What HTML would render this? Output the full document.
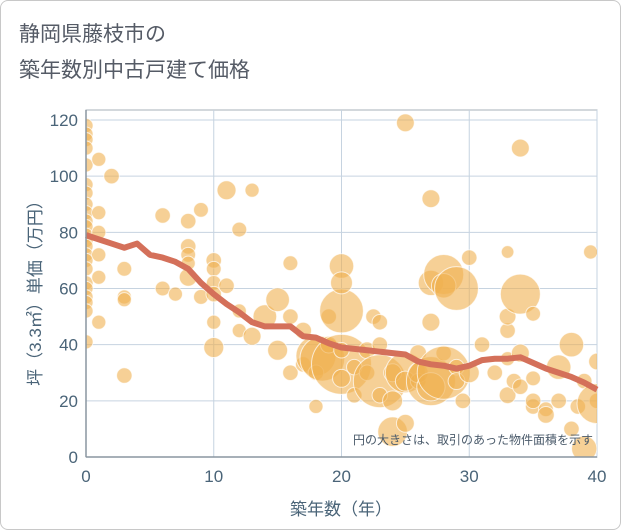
<!DOCTYPE html>
<html><head><meta charset="utf-8">
<style>
body{margin:0;background:#fff;}
#card{position:absolute;left:0;top:0;width:619px;height:528px;border:1px solid #c8c8c8;border-radius:8px;background:#fff;overflow:hidden;}
text{font-family:"Liberation Sans","Noto Sans CJK JP",sans-serif;}
</style></head><body>
<div id="card">
<svg id="svg" width="621" height="530">
<text x="18" y="40" font-size="21" fill="#555b66">静岡県藤枝市の</text>
<text x="18" y="76" font-size="21" fill="#555b66">築年数別中古戸建て価格</text>
<g id="grid"></g>
<g id="bubbles"></g>
<g id="trend"></g>
<g id="axes"></g>
<text x="592" y="443" font-size="12" fill="#4a5a6a" text-anchor="end">円の大きさは、取引のあった物件面積を示す</text>
<text x="340" y="514" font-size="17" fill="#4a6478" text-anchor="middle">築年数（年）</text>
<text transform="translate(40,288) rotate(-90)" font-size="17" fill="#4a6478" text-anchor="middle">坪（3.3㎡）単価（万円）</text>
</svg>
</div>
<script>
const xTicks=[0,10,20,30,40];
const yTicks=[0,20,40,60,80,100,120];
const ages=[0,0,0,0,0,0,0,0,0,0,0,0,0,0,0,0,0,0,0,0,0,0,0,1,1,1,1,1,1,2,3,3,3,3,6,6,7,8,8,8,8,8,9,9,10,10,10,10,10,10,11,11,12,12,12,13,13,14,15,15,16,16,16,17,17,18,18,18,18.5,19,19,20,20,20,20,20,20,21,21,22,22,22.5,23,23,23,23,24,24,24,25,25,25,25,26,26,26,27,27,27,27,27,28,28,28,28,29,29,29,29.5,30,30,31,32,33,33,33,33,33,33.5,34,34,34,34,35,35,35,35,36,36,37,37,38,38,38.5,39,39,39.5,40,40,40];
const prices=[118,115,113,110,104,97,94,90,87,84,82,79,77,75,72,70,67,62,60,57,55,52,41,106,87,80,72,64,48,100,67,57,56,29,86,60,58,84,75,72,69,64,88,57,70,67,62,58,48,39,95,61,81,52,45,95,43,50,56,38,69,50,30,45,33,36,30,18,35,50,40,52,33,68,62,28,38,32,22,38,30,50,27,48,22,40,9,20,30,119,30,27,12,27,37,30,92,62,48,27,25,65,61,37,30,32,60,27,20,71,30,40,30,22,73,45,50,35,27,110,58,37,25,18,51,28,20,17,15,20,32,40,10,18,27,3,73,34,20,19,39,38];
const sizes=[50,50,50,50,50,50,50,50,50,50,50,50,50,50,50,50,50,50,50,50,50,50,50,50,50,50,50,50,50,60,55,50,50,60,60,55,50,60,60,55,50,80,55,55,60,55,55,60,50,100,90,60,55,50,50,50,80,140,140,100,55,60,60,70,60,400,60,50,500,60,70,480,900,150,120,80,60,60,60,70,60,60,700,60,60,60,220,100,80,80,400,100,80,60,70,100,80,160,80,600,200,400,150,60,700,60,480,70,60,60,100,60,60,70,40,60,70,50,60,80,400,80,60,60,55,55,60,55,70,60,150,150,60,60,60,160,50,70,60,400,60,60];
const trendX=[0,1,2,3,4,5,6,7,8,9,10,11,12,13,14,15,16,17,18,19,20,21,22,23,24,25,26,27,28,29,30,31,32,33,34,35,36,37,38,39,40];
const trendY=[79,77.5,76,74.5,76,72,71,69.5,67,62,58,54.5,51.5,48,46.5,46.5,46.5,43,42.5,40.5,39,38.5,38,37.5,37,36.5,34,33,32.5,31.5,32.5,34.5,35,35,35.5,33.5,31.5,30,28.5,26.5,24];
const X0=85,X1=596,Y0=456,Y1=119;
const sx=v=>X0+(v-0)/40*(X1-X0);
const sy=v=>Y0-(v-0)/120*(Y0-Y1);
const NS="http://www.w3.org/2000/svg";
function mk(tag,attrs,parent){const e=document.createElementNS(NS,tag);for(const k in attrs)e.setAttribute(k,attrs[k]);parent.appendChild(e);return e;}
const grid=document.getElementById('grid'),axes=document.getElementById('axes'),bub=document.getElementById('bubbles'),tr=document.getElementById('trend');
mk('rect',{x:X0,y:Y1-10,width:X1-X0,height:Y0-Y1+10,fill:'none',stroke:'#a7b0b8','stroke-width':1},grid);
xTicks.forEach(t=>{
 const l=mk('line',{x1:sx(t),x2:sx(t),y1:Y1-10,y2:Y0,stroke:'#c6d3e0','stroke-width':1},grid);
 
 
 const tx=mk('text',{x:sx(t),y:Y0+25,'font-size':17,fill:'#4a6478','text-anchor':'middle'},axes);
 tx.textContent=t;
 
 
});
yTicks.forEach(t=>{
 const l=mk('line',{x1:X0,x2:X1,y1:sy(t),y2:sy(t),stroke:'#c6d3e0','stroke-width':1},grid);
 
 
 const tx=mk('text',{x:X0-8,y:sy(t)+6,'font-size':17,fill:'#4a6478','text-anchor':'end'},axes);
 tx.textContent=t;
 
 
});
mk('line',{x1:X0,x2:X0,y1:Y1-10,y2:Y0,stroke:'#8a96a0','stroke-width':1.5},axes);
mk('line',{x1:X0,x2:X1,y1:Y0,y2:Y0,stroke:'#8a96a0','stroke-width':1.5},axes);
ages.forEach((a,i)=>{
 const c=mk('circle',{cx:sx(a),cy:sy(prices[i]),r:Math.sqrt(sizes[i]),fill:'rgba(240,176,80,0.6)',stroke:'rgba(255,255,255,0.7)','stroke-width':1},bub);
 
 
});
const cp=document.createElementNS(NS,'clipPath');cp.setAttribute('id','clip');
mk('rect',{x:X0,y:Y1-10,width:X1-X0,height:Y0-Y1+10},cp);
document.getElementById('svg').appendChild(cp);
bub.setAttribute('clip-path','url(#clip)');
const p=mk('polyline',{points:trendX.map((x,i)=>sx(x)+','+sy(trendY[i])).join(' '),fill:'none',stroke:'#d4705a','stroke-width':6,'stroke-linejoin':'round'},tr);


</script>
</body></html>
